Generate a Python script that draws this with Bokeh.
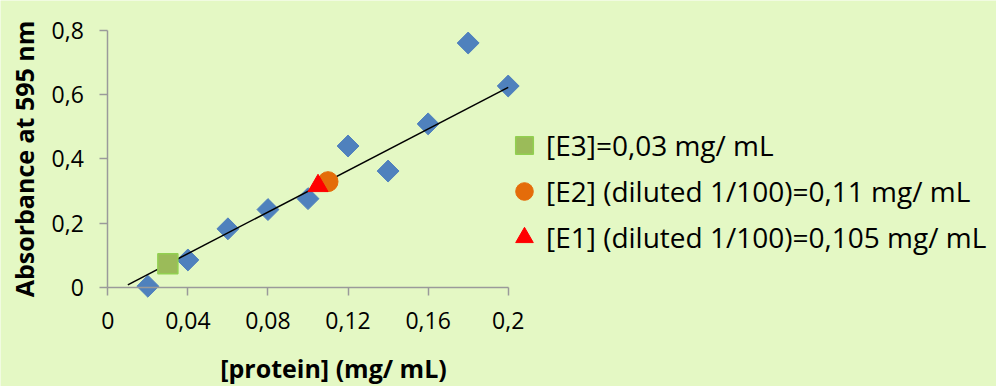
from bokeh.plotting import figure
from bokeh.models import Range1d, FixedTicker, Legend, LegendItem, Label
from bokeh.embed import file_html
from bokeh.resources import INLINE

# ---- data ----
std_conc = [0.02, 0.04, 0.06, 0.08, 0.10, 0.12, 0.14, 0.16, 0.18, 0.20]
std_abs = [0.003, 0.085, 0.182, 0.242, 0.276, 0.44, 0.362, 0.509, 0.761, 0.627]
trend_x = [0.01, 0.20]
trend_y = [0.0075, 0.623]
e3_x, e3_y = [0.03], [0.073]
e2_x, e2_y = [0.11], [0.329]
e1_x, e1_y = [0.105], [0.316]
e3_label = "[E3]=0,03 mg/ mL"
e2_label = "[E2] (diluted 1/100)=0,11 mg/ mL"
e1_label = "[E1] (diluted 1/100)=0,105 mg/ mL"
x_ticks = [0, 0.04, 0.08, 0.12, 0.16, 0.2]
x_tick_labels = ["0", "0,04", "0,08", "0,12", "0,16", "0,2"]
y_ticks = [0, 0.2, 0.4, 0.6, 0.8]
y_tick_labels = ["0", "0,2", "0,4", "0,6", "0,8"]
x_title = "[protein] (mg/ mL)"
y_title = "Absorbance at 595 nm"

BG = "#E4F8C4"
FONT = "Open Sans"
AX = "#9A9A9A"

p = figure(width=996, height=386, output_backend="svg", toolbar_location=None,
           x_range=Range1d(-0.0536, 0.4439), y_range=Range1d(-0.3094, 0.8935),
           min_border=0)
p.background_fill_color = BG
p.border_fill_color = BG
p.outline_line_color = None
p.xgrid.visible = False
p.ygrid.visible = False

for ax, ticks, labels in ((p.xaxis[0], x_ticks, x_tick_labels), (p.yaxis[0], y_ticks, y_tick_labels)):
    ax.ticker = FixedTicker(ticks=ticks)
    ax.major_label_overrides = {t: l for t, l in zip(ticks, labels)}
    ax.fixed_location = 0
    ax.bounds = (ticks[0], ticks[-1])
    ax.axis_line_color = AX
    ax.axis_line_width = 1.5
    ax.major_tick_line_color = AX
    ax.major_tick_line_width = 1.5
    ax.major_tick_out = 8
    ax.major_tick_in = 0
    ax.minor_tick_line_color = None
    ax.major_label_text_font = FONT
    ax.major_label_text_font_size = "23px"
    ax.major_label_text_color = "#000000"

p.xaxis.major_label_standoff = 17
p.yaxis.major_label_standoff = 16
p.yaxis.axis_label = y_title
p.yaxis.axis_label_text_font = FONT
p.yaxis.axis_label_text_font_style = "bold"
p.yaxis.axis_label_text_font_size = "25px"
p.yaxis.axis_label_text_color = "#000000"
p.yaxis.axis_label_standoff = 7

p.add_layout(Label(x=333, y=19, x_units="screen", y_units="screen", text=x_title,
                   text_font=FONT, text_font_style="bold", text_font_size="25px",
                   text_align="center", text_baseline="middle", text_color="#000000"))

p.scatter(std_conc, std_abs, marker="square", size=15.5, angle=0.785398,
          fill_color="#4F81BD", line_color="#4F81BD")
p.line(trend_x, trend_y, line_color="#000000", line_width=1.5)
r3 = p.scatter(e3_x, e3_y, marker="square", size=20, fill_color="#9BBB59", line_color="#92D050", line_width=1.5)
r2 = p.scatter(e2_x, e2_y, marker="circle", size=20, fill_color="#E46C0A", line_color="#E46C0A")
r1 = p.scatter(e1_x, e1_y, marker="triangle", size=20, fill_color="#FF0000", line_color="#FF0000")

legend = Legend(items=[LegendItem(label=e3_label, renderers=[r3]),
                       LegendItem(label=e2_label, renderers=[r2]),
                       LegendItem(label=e1_label, renderers=[r1])],
                location=(502, 126), glyph_width=44, glyph_height=46, spacing=0,
                label_standoff=0, padding=0, margin=0,
                label_text_font=FONT, label_text_font_size="28px", label_text_color="#000000",
                background_fill_alpha=0, border_line_alpha=0)
p.add_layout(legend)

html = file_html(p, INLINE)
html = html.replace("<body>", '<body style="background-color:%s;">' % BG, 1)
open("out.html", "w").write(html)
